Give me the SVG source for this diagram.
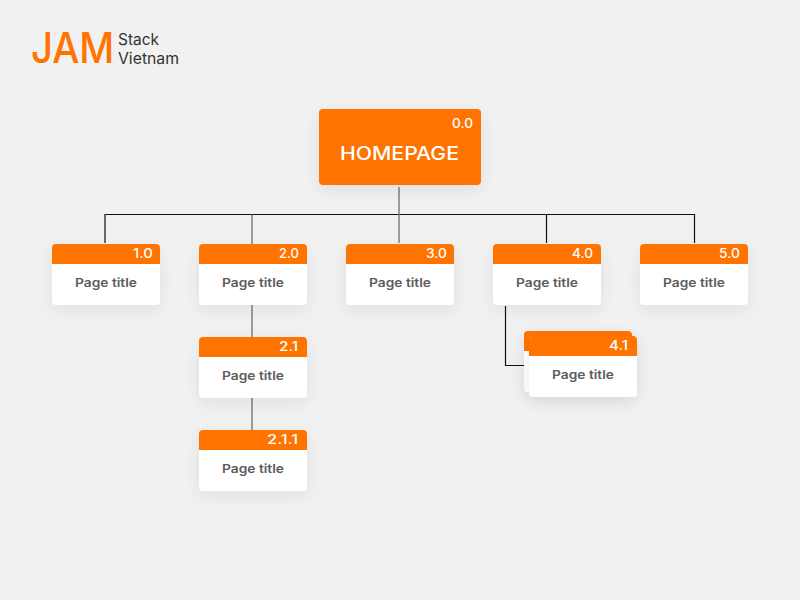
<svg xmlns="http://www.w3.org/2000/svg" width="800" height="600" viewBox="0 0 800 600">
<style>
.bg{fill:#f1f1f1}
.o{fill:#ff7300}
.w{fill:#fff}
.t{font-family:"Inter","Liberation Sans",Arial,sans-serif}
.num{font-size:13px;font-weight:500;fill:#fff;text-anchor:end}
.pt{font-size:12px;font-weight:600;fill:#5c5c5f;text-anchor:middle}
.c{fill:none;stroke:#111;stroke-width:1.2}
.g{fill:none;stroke:#777;stroke-width:1.4}
</style>
<defs>
<filter id="s" x="-40%" y="-40%" width="180%" height="190%"><feDropShadow dx="0" dy="5" stdDeviation="8" flood-color="#000" flood-opacity=".07"/></filter>
<g id="card"><g filter="url(#s)"><rect class="w" width="108" height="61" rx="4"/></g><path class="o" d="M0 20V4a4 4 0 0 1 4-4H104a4 4 0 0 1 4 4V20Z"/></g>
</defs>
<rect class="bg" width="800" height="600"/>
<g id="logo">
<text class="t" transform="translate(31 63) scale(.9 1)" font-size="42.500" font-weight="500" fill="#ff7300">JAM</text>
<text class="t" x="118" y="45" font-size="15.500" fill="#333" textLength="41" lengthAdjust="spacingAndGlyphs">Stack</text>
<text class="t" x="118" y="64" font-size="15.500" fill="#333" textLength="61" lengthAdjust="spacingAndGlyphs">Vietnam</text>
</g>
<g id="connectors">
<path class="c" d="M105 243V214.500H694.500V243M546.500 214.500V243"/>
<path class="g" d="M399 187V243M252 214.500V244M252 305V337M252 398V430"/>
<path class="c" d="M505.500 306V365.500H525"/>
</g>
<g id="node-0-0">
<g filter="url(#s)"><rect class="o" x="319" y="109" width="162" height="76" rx="4"/></g>
<text class="t num" x="473" y="128" textLength="21" lengthAdjust="spacingAndGlyphs">0.0</text>
<text class="t" x="399.500" y="160" font-size="18" font-weight="500" fill="#fff" text-anchor="middle" textLength="119" lengthAdjust="spacingAndGlyphs">HOMEPAGE</text>
</g>
<g id="node-1-0"><use href="#card" x="52" y="244"/><text class="t num" x="153" y="258" textLength="20" lengthAdjust="spacingAndGlyphs">1.0</text><text class="t pt" x="106" y="287" textLength="62" lengthAdjust="spacingAndGlyphs">Page title</text></g>
<g id="node-2-0"><use href="#card" x="199" y="244"/><text class="t num" x="299" y="258" textLength="20" lengthAdjust="spacingAndGlyphs">2.0</text><text class="t pt" x="253" y="287" textLength="62" lengthAdjust="spacingAndGlyphs">Page title</text></g>
<g id="node-3-0"><use href="#card" x="346" y="244"/><text class="t num" x="447" y="258" textLength="21" lengthAdjust="spacingAndGlyphs">3.0</text><text class="t pt" x="400" y="287" textLength="62" lengthAdjust="spacingAndGlyphs">Page title</text></g>
<g id="node-4-0"><use href="#card" x="493" y="244"/><text class="t num" x="593" y="258" textLength="21" lengthAdjust="spacingAndGlyphs">4.0</text><text class="t pt" x="547" y="287" textLength="62" lengthAdjust="spacingAndGlyphs">Page title</text></g>
<g id="node-5-0"><use href="#card" x="640" y="244"/><text class="t num" x="740" y="258" textLength="21" lengthAdjust="spacingAndGlyphs">5.0</text><text class="t pt" x="694" y="287" textLength="62" lengthAdjust="spacingAndGlyphs">Page title</text></g>
<g id="node-2-1"><use href="#card" x="199" y="337"/><text class="t num" x="298" y="351" textLength="19" lengthAdjust="spacingAndGlyphs">2.1</text><text class="t pt" x="253" y="380" textLength="62" lengthAdjust="spacingAndGlyphs">Page title</text></g>
<g id="node-2-1-1"><use href="#card" x="199" y="430"/><text class="t num" x="298" y="444" textLength="31" lengthAdjust="spacingAndGlyphs">2.1.1</text><text class="t pt" x="253" y="473" textLength="62" lengthAdjust="spacingAndGlyphs">Page title</text></g>
<g id="node-4-1"><use href="#card" x="524" y="331"/><use href="#card" x="529" y="336"/><text class="t num" x="628" y="350" textLength="19" lengthAdjust="spacingAndGlyphs">4.1</text><text class="t pt" x="583" y="379" textLength="62" lengthAdjust="spacingAndGlyphs">Page title</text></g>
</svg>
